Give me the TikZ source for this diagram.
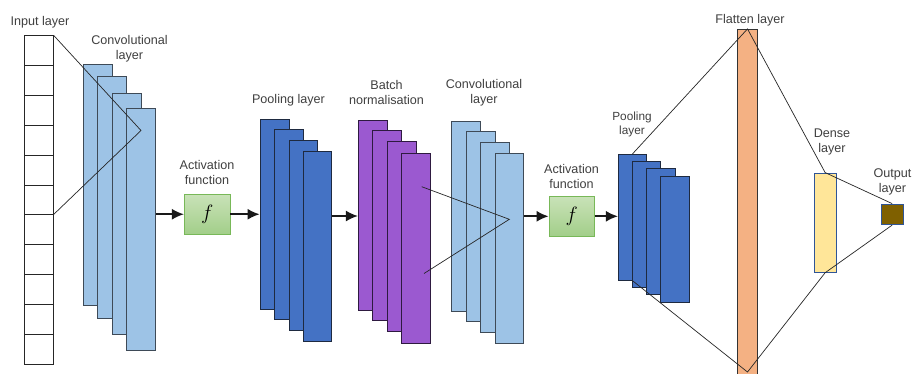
\documentclass[tikz,border=0pt]{standalone}
\usepackage{fontspec}
\setmainfont{Liberation Sans}
\usetikzlibrary{arrows.meta}

\definecolor{txt}{HTML}{404040}
\definecolor{convfill}{HTML}{9DC3E6}
\definecolor{convline}{HTML}{3E4A57}
\definecolor{poolfill}{HTML}{4472C4}
\definecolor{poolline}{HTML}{1E2A40}
\definecolor{bnfill}{HTML}{9B59D0}
\definecolor{bnline}{HTML}{2E1A40}
\definecolor{actTop}{HTML}{C9E2B8}
\definecolor{actBot}{HTML}{A2CE89}
\definecolor{actline}{HTML}{78B858}
\definecolor{flatfill}{HTML}{F4B183}
\definecolor{densefill}{HTML}{FFE699}
\definecolor{outfill}{HTML}{7F6000}
\definecolor{edgeblue}{HTML}{2F5597}

% a box given by its corners: style, name, x1, y1, x2, y2
\newcommand\blockat[6]{%
  \node[#1, minimum width={(#5-#3)*1pt}, minimum height={(#6-#4)*1pt}]
    (#2) at ({(#3+#5)/2},{(#4+#6)/2}) {};}

\tikzset{
  box/.style={draw, inner sep=0pt, line width=0.8pt},
  conv/.style={box, fill=convfill, draw=convline},
  pool/.style={box, fill=poolfill, draw=poolline},
  bnorm/.style={box, fill=bnfill, draw=bnline},
  actbox/.style={box, top color=actTop, bottom color=actBot, draw=actline},
  flat/.style={box, fill=flatfill, draw=black!80},
  dense/.style={box, fill=densefill, draw=edgeblue},
  outp/.style={box, fill=outfill, draw=edgeblue},
  cell/.style={draw=black!85, fill=white, line width=0.7pt, inner sep=0pt,
               minimum width=29pt, minimum height=29.85pt},
  lbl/.style={text=txt, align=center, inner sep=0pt,
              font=\fontsize{12.6}{14.8}\selectfont},
  link/.style={draw=black!85, line width=0.7pt},
  arr/.style={draw=black!90, line width=1.7pt,
              -{Latex[length=12pt,width=11pt]}},
  fn/.style={font=\fontsize{22}{22}\selectfont}
}

\begin{document}
\begin{tikzpicture}[x=1pt, y=-1pt]
\clip (0,0) rectangle (913,373);
\fill[white] (0,0) rectangle (913,373);

% input column of eleven cells
\foreach \i in {1,...,11}
  \node[cell] (in\i) at (38.8, {35.7 + 29.85*(\i-0.5)}) {};
\node[lbl] (inlbl) at (40,22) {Input layer};

% first convolutional stack
\blockat{conv}{c1a}{83.3}{64.3}{112.3}{305.7}
\blockat{conv}{c1b}{97.7}{76.7}{126.7}{318}
\blockat{conv}{c1c}{112.3}{93.3}{141}{334}
\blockat{conv}{c1d}{126.7}{108}{155.7}{350}
\node[lbl] (c1lbl) at (129.5,49) {Convolutional\\layer};

% first activation
\blockat{actbox}{a1}{184.3}{194.2}{230}{234.3}
\node[fn] at (a1) {$f$};
\node[lbl] (a1lbl) at (207,172.5) {Activation\\function};

% first pooling stack
\blockat{pool}{p1a}{260}{119.3}{289}{309.3}
\blockat{pool}{p1b}{274.3}{129.7}{303.3}{319.3}
\blockat{pool}{p1c}{289}{140.3}{317.7}{330}
\blockat{pool}{p1d}{303.3}{151.7}{331.7}{341.7}
\node[lbl] (p1lbl) at (288.5,100) {Pooling layer};

% batch normalisation stack
\blockat{bnorm}{b1a}{358.3}{120.7}{387.3}{310.3}
\blockat{bnorm}{b1b}{372.7}{130.7}{401.7}{320.7}
\blockat{bnorm}{b1c}{387.3}{141.7}{416}{331}
\blockat{bnorm}{b1d}{401.7}{153.3}{430.7}{343.3}
\node[lbl] (b1lbl) at (386.5,92.5) {Batch\\normalisation};

% second convolutional stack
\blockat{conv}{c2a}{451.7}{121.3}{480.7}{311}
\blockat{conv}{c2b}{466}{131.7}{495}{321.7}
\blockat{conv}{c2c}{480.7}{142.3}{509.3}{332.3}
\blockat{conv}{c2d}{495}{153.3}{523.7}{343.7}
\node[lbl] (c2lbl) at (484,92.5) {Convolutional\\layer};

% second activation
\blockat{actbox}{a2}{549}{196.3}{594.3}{236.3}
\node[fn] at (a2) {$f$};
\node[lbl] (a2lbl) at (571.5,176.5) {Activation\\function};

% second pooling stack
\blockat{pool}{p2a}{618.3}{154.3}{646.7}{280.3}
\blockat{pool}{p2b}{632.3}{161}{660.7}{287.3}
\blockat{pool}{p2c}{646.7}{168}{675}{294.3}
\blockat{pool}{p2d}{660.7}{176}{689.3}{302}
\node[lbl, font=\fontsize{11.8}{14}\selectfont] (p2lbl) at (632,124) {Pooling\\layer};

% flatten, dense and output
\blockat{flat}{fl}{737.7}{29.3}{757.3}{390}
\node[lbl] (fllbl) at (750,20) {Flatten layer};
\coordinate (flb) at (747.5,372);
\blockat{dense}{dn}{814.3}{173}{836}{272.3}
\node[lbl] (dnlbl) at (832,142) {Dense\\layer};
\blockat{outp}{ou}{881}{204}{903.3}{224.7}
\node[lbl] (oulbl) at (892.5,182) {Output\\layer};

% receptive-field lines
\coordinate (k1) at (141,130.5);
\path[link] (in1.north east) -- (k1) -- (in7.north east);
\coordinate (k2) at (509.3,219.3);
\coordinate (s2a) at (421.7,186.7);
\coordinate (s2b) at (424,273.5);
\path[link] (s2a) -- (k2) -- (s2b);
\path[link] (p2a.north) -- (fl.north) -- (dn.north) -- (ou.north);
\path[link] (p2a.south) -- (flb) -- (dn.south) -- (ou.south);

% data-flow arrows
\path[arr] (a1.west -| c1d.east) -- (a1.west);
\path[arr] (a1.east) -- (a1.east -| p1a.west);
\path[arr] (p1d.east |- 0,216) -- (b1a.west |- 0,216);
\path[arr] (a2.west -| c2d.east) -- (a2.west);
\path[arr] (a2.east) -- (a2.east -| p2a.west);
\end{tikzpicture}
\end{document}
